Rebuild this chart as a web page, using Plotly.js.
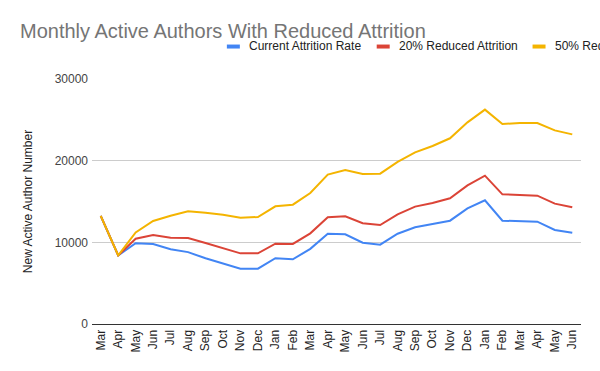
<!DOCTYPE html>
<html>
<head>
<meta charset="utf-8">
<script src="https://cdn.plot.ly/plotly-3.0.1.min.js"></script>
<style>
html,body{margin:0;padding:0;overflow:hidden;background:#fff;width:600px;height:371px;}
#chart{width:700px;height:371px;}
</style>
</head>
<body>
<div id="chart"></div>
<script>
const months = ["Mar","Apr","May","Jun","Jul","Aug","Sep","Oct","Nov","Dec","Jan","Feb",
  "Mar","Apr","May","Jun","Jul","Aug","Sep","Oct","Nov","Dec","Jan","Feb","Mar","Apr","May","Jun"];
const currentRate = [13250,8400,9900,9800,9150,8800,8050,7400,6780,6780,8050,7920,9200,11060,
  10980,9950,9710,11050,11840,12250,12650,14160,15150,12650,12610,12530,11510,11180];
const reduced20 = [13250,8400,10450,10900,10570,10530,9920,9300,8650,8650,9840,9800,11100,13060,
  13180,12330,12120,13430,14370,14820,15390,16980,18160,15880,15840,15710,14740,14290];
const reduced50 = [13250,8400,11220,12610,13260,13800,13630,13390,13020,13100,14410,14610,16040,18290,
  18860,18370,18410,19840,21020,21800,22740,24690,26250,24490,24610,24610,23710,23220];
const seriesNames = ["Current Attrition Rate","20% Reduced Attrition","50% Reduced Attrition"];
const seriesColors = ["#4285F4","#DB4437","#F4B400"];
const yTicks = [0,10000,20000,30000];

const FONT = 'Arial, "Liberation Sans", sans-serif';
const W = 700, H = 371;
const plotL = 92, plotR = 581.5, plotT = 79, plotB = 324.3;
const px2x = p => (p - plotL) / (plotR - plotL);
const py2y = p => (plotB - p) / (plotB - plotT);

const xIdx = months.map((m,i)=>i);
const allSeries = [currentRate, reduced20, reduced50];
const traces = allSeries.map((vals,k)=>({
  x:xIdx, y:vals, type:'scatter', mode:'lines', name:seriesNames[k],
  line:{color:seriesColors[k], width:2}, showlegend:false, hoverinfo:'skip'
}));

// legend (swatch + label), laid out like the reference
const legendSwatchX = [227, 377, 533];
const legendY = 46.5;
const shapes = [], annotations = [];
seriesNames.forEach((n,k)=>{
  shapes.push({type:'line', xref:'paper', yref:'paper',
    x0:px2x(legendSwatchX[k]), x1:px2x(legendSwatchX[k]+13),
    y0:py2y(legendY), y1:py2y(legendY), line:{color:seriesColors[k], width:4}});
  annotations.push({xref:'paper', yref:'paper', x:px2x(legendSwatchX[k]+20), y:py2y(legendY-0.5),
    xanchor:'left', yanchor:'middle', showarrow:false, text:n,
    font:{family:FONT, size:12, color:'#222'}});
});

const layout = {
  width: W, height: H,
  margin:{l:plotL, r:W-plotR, t:plotT, b:H-plotB},
  paper_bgcolor:'#fff', plot_bgcolor:'#fff',
  font:{family:FONT, color:'#222', size:12},
  title:{text:'Monthly Active Authors With Reduced Attrition', xref:'container', yref:'container',
    x:20/W, xanchor:'left', y:1-31/H, yanchor:'middle',
    font:{family:FONT, size:20, color:'#757575'}},
  showlegend:false,
  shapes:shapes, annotations:annotations,
  xaxis:{range:[-0.5,27.5], tickmode:'array', tickvals:xIdx, ticktext:months, tickangle:-90,
    showgrid:false, zeroline:false, showline:true, linecolor:'#333', linewidth:1,
    ticks:'', tickfont:{family:FONT, size:12, color:'#222'}, fixedrange:true},
  yaxis:{range:[0,30000], tickmode:'array', tickvals:yTicks, ticktext:yTicks.map(String),
    showgrid:true, gridcolor:'#cccccc', gridwidth:1, zeroline:false, showline:false,
    ticks:'', ticklabelstandoff:3, tickfont:{family:FONT, size:12, color:'#444'},
    title:{text:'New Active Author Number', font:{family:FONT, size:12, color:'#222'}, standoff:19},
    fixedrange:true},
  hovermode:false
};
Plotly.newPlot('chart', traces, layout, {displayModeBar:false, staticPlot:true});
</script>
</body>
</html>
